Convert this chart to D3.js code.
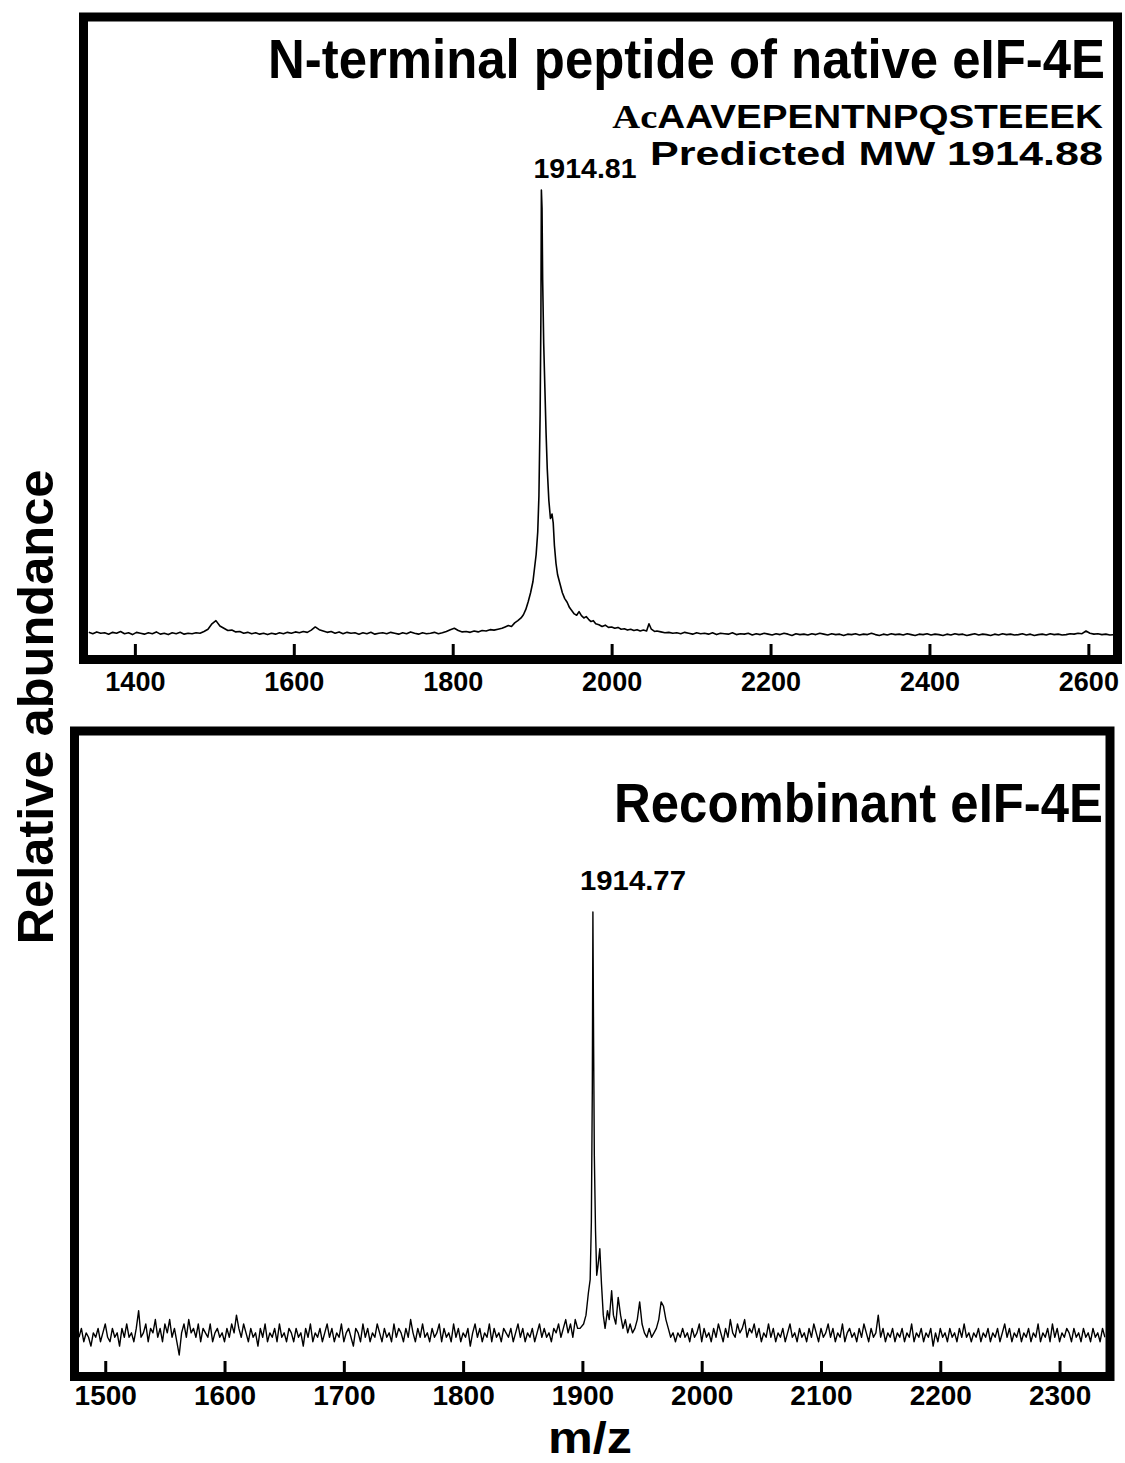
<!DOCTYPE html>
<html>
<head>
<meta charset="utf-8">
<script src="https://cdn.jsdelivr.net/npm/d3@7"></script>
<style>
body { margin: 0; background: #fff; }
svg { display: block; font-family: "Liberation Sans", Arial, Helvetica, sans-serif; font-weight: bold; }
</style>
</head>
<body>
<svg width="1125" height="1463"></svg>
<script>
// ---- top spectrum: native eIF-4E N-terminal peptide ----
var topStep = 5;
var topLeftStart = 1342;
var topLeft = [
  1.7,1.4,1.8,1.5,1.6,1.3,1.7,1.5,1.9,1.4,
  1.6,1.2,1.7,1.5,1.3,1.6,1.4,1.8,1.3,1.5,
  1.2,1.6,1.4,1.7,1.3,1.5,1.4,1.6,1.5,1.9,
  2.4,3.6,4.3,3.1,2.6,2.1,2.2,1.8,1.9,1.5,
  1.7,1.4,1.6,1.3,1.5,1.2,1.5,1.3,1.6,1.4,
  1.7,1.5,1.8,1.6,1.9,1.7,2.2,2.9,2.3,2.0,
  1.7,1.9,1.5,1.8,1.4,1.7,1.5,1.6,1.3,1.6,
  1.4,1.7,1.3,1.5,1.6,1.4,1.7,1.5,1.3,1.6,
  1.4,1.8,1.5,1.3,1.6,1.4,1.5,1.7,1.4,1.6,
  1.9,2.3,2.6,2.1,1.8,1.9,1.7,2.0,1.8,2.1,
  2.0,2.3,2.2
];
var topPeak = [
  [1857,2.4],[1862,2.6],[1866,2.9],[1870,3.2],[1874,3.0],[1878,3.8],[1882,4.3],
  [1886,4.9],[1889,5.6],[1892,6.8],[1895,8.5],[1898,10.5],[1901,13],[1903,16],
  [1905,19],[1907,24],[1908.5,32],[1910,50],[1911,72],[1911.6,100],[1912.4,96],
  [1913.2,80],[1914.5,66],[1916,56],[1917.5,46],[1919,38],[1921,31],[1923,27],
  [1925,28],[1926.5,26],[1928,21],[1930,17],[1932,14.5],[1935,12.5],[1938,10.5],
  [1941,9.2],[1944,8.4],[1947,7.2],[1950,6.5],[1953,5.8],[1956,5.5],[1959,6.3],
  [1962,5.4],[1965,4.9],[1968,5.2],[1971,4.6],[1974,4.1],[1977,4.3],[1980,3.6],
  [1984,3.4],[1988,3.0],[1992,3.3],[1996,2.8],[2000,2.9],[2004,2.6],[2008,2.8],
  [2012,2.4],[2016,2.5],[2020,2.2],[2024,2.4],[2028,2.1],[2032,2.3],[2036,2.0],
  [2040,2.2],[2044,2.0],[2047,3.6],[2050,2.4],[2054,1.9],[2057,2.0]
];
var topRightStart = 2062;
var topRight = [
  1.8,1.6,1.7,1.5,1.6,1.4,1.7,1.5,1.3,1.6,
  1.4,1.5,1.3,1.6,1.2,1.5,1.4,1.3,1.6,1.2,
  1.4,1.3,1.5,1.1,1.4,1.2,1.5,1.3,1.1,1.4,
  1.2,1.5,1.3,1.0,1.4,1.2,1.3,1.1,1.4,1.2,
  1.5,1.3,1.1,1.4,1.2,1.3,1.0,1.3,1.2,1.4,
  1.1,1.3,1.2,1.5,1.2,1.0,1.3,1.1,1.4,1.2,
  1.3,1.1,1.4,1.2,1.0,1.3,1.2,1.4,1.1,1.3,
  1.2,1.0,1.3,1.1,1.4,1.2,1.3,1.0,1.2,1.4,
  1.1,1.3,1.2,1.0,1.3,1.1,1.4,1.2,1.3,1.1,
  1.2,1.4,1.1,1.3,1.0,1.2,1.3,1.1,1.4,1.2,
  1.3,1.1,1.2,1.4,1.3,1.5,1.4,2.0,1.5,1.3,
  1.4,1.2,1.3,1.1,1.2
];
var topTicks = [1400, 1600, 1800, 2000, 2200, 2400, 2600];

// ---- bottom spectrum: recombinant eIF-4E ----
var botStep = 2;
var botLeftStart = 1478;
var botLeft = [
  4,6,3,5,4,2,5,4,6,3,
  5,7,4,3,6,4,5,2,6,4,
  7,4,5,3,6,10,4,5,7,3,
  6,5,8,4,6,3,7,5,8,4,
  6,3,0,5,7,4,8,5,6,4,
  7,3,6,5,4,7,3,5,6,4,
  5,3,6,4,7,5,9,6,4,7,
  5,3,6,4,5,2,6,4,7,3,
  5,4,6,3,7,4,5,3,6,5,
  3,6,4,5,2,6,4,7,3,5,
  4,6,3,5,7,4,6,3,5,4,
  7,3,5,6,4,2,6,5,3,7,
  4,6,3,5,4,7,5,3,6,4,
  5,3,7,4,6,5,3,6,4,8,
  5,3,6,4,7,4,5,3,6,4,
  5,7,3,6,4,5,3,7,4,6,
  3,5,4,6,2,5,7,4,6,3,
  5,4,7,3,6,4,5,3,6,5,
  4,6,3,5,7,4,6,3,5,4,
  6,3,5,7,4,6,4,5,3,6,
  5,7,4,6,8,5,7,4,8,6,
  6
];
var botPeak = [
  [1901,7],[1903,9],[1905,14],[1906.5,17],[1907.5,30],[1908.3,60],[1908.8,100],
  [1909.4,70],[1910,45],[1911,28],[1912,18],[1913,20],[1914.6,24],[1916,16],
  [1917.5,9],[1919,6],[1921,10],[1922.5,8],[1924.5,14.5],[1926,9],[1928,7],
  [1930,13],[1932,9],[1934,6],[1936,8],[1938,5],[1940,7],[1942,5],[1944,6],
  [1946,8],[1948,12],[1950,7],[1952,5],[1954,4],[1956,6],[1958,4],[1960,5],
  [1962,6],[1964,8],[1966,12],[1968,11],[1970,8],[1972,6],[1974,4],[1976,5],
  [1978,3],[1980,5],[1982,4],[1984,6],[1986,4]
];
var botRightStart = 1988;
var botRight = [
  5,3,6,4,5,7,3,6,4,5,
  3,6,4,7,5,3,6,4,8,5,
  4,7,5,6,8,4,6,5,7,4,
  6,3,5,4,7,4,6,3,5,4,
  6,3,5,7,4,5,3,6,4,5,
  3,6,4,7,5,3,6,4,5,7,
  4,6,3,5,4,7,3,5,6,4,
  5,3,6,4,7,5,3,6,4,5,
  9,4,6,3,5,4,6,3,5,4,
  6,3,5,4,7,3,5,4,6,3,
  5,4,6,2,5,3,6,4,5,3,
  6,4,5,3,6,4,7,4,5,3,
  5,4,6,3,5,4,6,3,5,4,
  6,3,5,7,4,6,3,5,4,6,
  3,5,4,6,3,5,4,7,3,5,
  4,6,3,7,4,6,3,5,4,6,
  5,3,6,4,5,3,6,4,5,3,
  6,4,5,3,6,4
];
var botTicks = [1500, 1600, 1700, 1800, 1900, 2000, 2100, 2200, 2300];

var svg = d3.select("svg");

function series(start, step, vals) {
  return vals.map(function(v, i) { return [start + step * i, v]; });
}

function drawPanel(id, frame, xDom, yRange, pts, ticks, tickFont, lineW, pad) {
  // frame: outer box (stroke centred on it)
  var x = d3.scaleLinear().domain(xDom).range([frame.x0 + 4.5, frame.x1 - 4.5]);
  var y = d3.scaleLinear().domain([0, 100]).range(yRange);

  svg.append("clipPath").attr("id", id)
    .append("rect")
    .attr("x", frame.x0 + 4.5).attr("y", frame.y0 + 4.5)
    .attr("width", frame.x1 - frame.x0 - 9).attr("height", frame.y1 - frame.y0 - 9);

  var line = d3.line()
    .x(function(d) { return x(d[0]); })
    .y(function(d) { return y(d[1]); });

  svg.append("path")
    .datum(pts)
    .attr("clip-path", "url(#" + id + ")")
    .attr("fill", "none")
    .attr("stroke", "#000")
    .attr("stroke-width", lineW)
    .attr("stroke-linejoin", "round")
    .attr("d", line);

  var axis = d3.axisBottom(x)
    .tickValues(ticks)
    .tickFormat(d3.format("d"))
    .tickSizeInner(-11)
    .tickSizeOuter(0)
    .tickPadding(pad);

  var g = svg.append("g")
    .attr("transform", "translate(0," + (frame.y1 - 4.5) + ")")
    .call(axis);
  g.select(".domain").remove();
  g.selectAll(".tick line").attr("stroke", "#000").attr("stroke-width", 3);
  g.selectAll(".tick text")
    .attr("fill", "#000")
    .attr("font-family", "'Liberation Sans', Arial, sans-serif")
    .attr("font-weight", "bold")
    .attr("font-size", tickFont);

  svg.append("rect")
    .attr("x", frame.x0).attr("y", frame.y0)
    .attr("width", frame.x1 - frame.x0).attr("height", frame.y1 - frame.y0)
    .attr("fill", "none")
    .attr("stroke", "#000")
    .attr("stroke-width", 9);

  return x;
}

var topPts = series(topLeftStart, topStep, topLeft)
  .concat(topPeak, series(topRightStart, topStep, topRight));
var botPts = series(botLeftStart, botStep, botLeft)
  .concat(botPeak, series(botRightStart, botStep, botRight));

drawPanel("clipTop", {x0: 83.5, y0: 17, x1: 1117.5, y1: 659.5},
  [1341, 2631], [640, 190], topPts, topTicks, 27, 1.6, 17);
drawPanel("clipBot", {x0: 74.5, y0: 731, x1: 1110, y1: 1376.5},
  [1478, 2338.5], [1355, 912], botPts, botTicks, 28, 1.4, 13);

// text squeezed or stretched horizontally to the reference width
function fitText(x, y, size, anchor, len, build) {
  var g = svg.append("g");
  var t = g.append("text").attr("font-size", size).attr("text-anchor", anchor);
  build(t);
  var w = t.node().getComputedTextLength();
  g.attr("transform", "translate(" + x + "," + y + ") scale(" + (len / w) + ",1)");
  return g;
}
function label(x, y, str, size, anchor, len) {
  return fitText(x, y, size, anchor, len, function(t) { t.text(str); });
}

// titles and annotations
label(1105, 78, "N-terminal peptide of native eIF-4E", 56, "end", 837);
fitText(1103, 128, 34, "end", 491, function(t) {
  t.append("tspan").attr("font-family", "'Liberation Serif', 'Times New Roman', serif").text("Ac");
  t.append("tspan").text("AAVEPENTNPQSTEEEK");
});
label(1103, 165, "Predicted MW 1914.88", 34, "end", 453);
label(585, 178, "1914.81", 28, "middle", 103);

label(1103, 822, "Recombinant eIF-4E", 56, "end", 489);
label(633, 890, "1914.77", 28, "middle", 106);

// axis titles
var ya = svg.append("g").attr("transform", "translate(53,707) rotate(-90)");
var yt = ya.append("text").attr("font-size", 50).attr("text-anchor", "middle").text("Relative abundance");
yt.attr("transform", "scale(" + (475 / yt.node().getComputedTextLength()) + ",1)");
label(590, 1453, "m/z", 45, "middle", 84);
</script>
</body>
</html>
